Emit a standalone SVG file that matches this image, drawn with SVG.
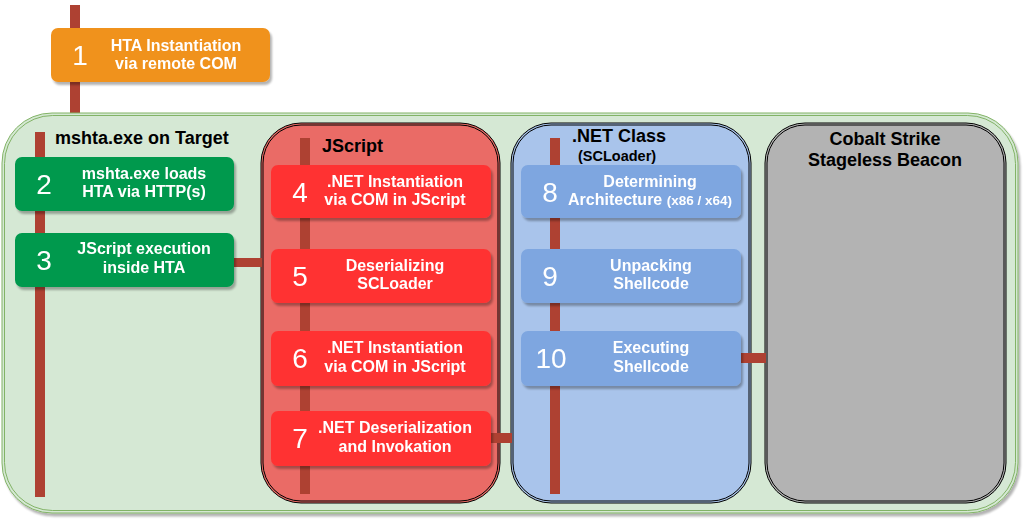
<svg xmlns="http://www.w3.org/2000/svg" width="1027" height="521" viewBox="0 0 1027 521">
<style>
.bar{fill:#ae4132}
.t{font-family:"Liberation Sans",Arial,sans-serif;font-weight:bold;font-size:16px;fill:#ffffff;text-anchor:middle}
.n{font-family:"Liberation Sans",Arial,sans-serif;font-size:28px;fill:#ffffff;text-anchor:middle}
.h{font-family:"Liberation Sans",Arial,sans-serif;font-weight:bold;font-size:18px;fill:#000000}
.box{filter:url(#sh)}
</style>
<defs>
<filter id="sh" x="-10%" y="-10%" width="125%" height="140%">
<feGaussianBlur in="SourceAlpha" stdDeviation="1"/>
<feOffset dx="2" dy="3" result="o"/>
<feComponentTransfer><feFuncA type="linear" slope="0.3"/></feComponentTransfer>
<feMerge><feMergeNode/><feMergeNode in="SourceGraphic"/></feMerge>
</filter>
</defs>
<rect class="bar" x="70" y="5" width="10" height="110"/>
<g id="target">
<rect x="2" y="113" width="1016" height="400" rx="50" fill="#d5e8d4" stroke="#82b366" stroke-width="1" filter="url(#sh)"/>
<rect x="4.5" y="115.5" width="1011" height="395" rx="48" fill="none" stroke="#82b366" stroke-width="1"/>
<text class="h" x="55" y="144">mshta.exe on Target</text>
</g>
<g id="jscript">
<rect x="261" y="123" width="239" height="380" rx="40" fill="#ea6b66" stroke="#000" stroke-width="1"/>
<rect x="263" y="125" width="235" height="376" rx="38" fill="none" stroke="#000" stroke-width="1"/>
<text class="h" x="322" y="152">JScript</text>
</g>
<g id="netclass">
<rect x="511" y="123" width="240" height="380" rx="40" fill="#a9c4eb" stroke="#000" stroke-width="1"/>
<rect x="513" y="125" width="236" height="376" rx="38" fill="none" stroke="#000" stroke-width="1"/>
<text class="h" x="572" y="142">.NET Class</text>
<text class="h" x="578" y="161" style="font-size:14.5px">(SCLoader)</text>
</g>
<g id="beacon">
<rect x="765" y="123" width="241" height="380" rx="40" fill="#b3b3b3" stroke="#000" stroke-width="1"/>
<rect x="767" y="125" width="237" height="376" rx="38" fill="none" stroke="#000" stroke-width="1"/>
<text class="h" x="885" y="145" text-anchor="middle">Cobalt Strike</text>
<text class="h" x="885" y="166" text-anchor="middle">Stageless Beacon</text>
</g>
<g id="connectors">
<rect class="bar" x="35" y="132" width="10" height="365"/>
<rect class="bar" x="300" y="138" width="10" height="356"/>
<rect class="bar" x="550" y="138" width="10" height="356"/>
<rect class="bar" x="233" y="258" width="29" height="9"/>
<rect class="bar" x="490" y="433" width="22" height="10"/>
<rect class="bar" x="740" y="353" width="26" height="10"/>
</g>
<g id="n1" class="box">
<rect x="51" y="28" width="219" height="54" rx="7" fill="#f0921f"/>
<text class="n" x="80" y="65">1</text>
<text class="t" x="176" y="51">HTA Instantiation</text>
<text class="t" x="176" y="69">via remote COM</text>
</g>
<g id="n2" class="box">
<rect x="15" y="157" width="219" height="54" rx="7" fill="#00994d"/>
<text class="n" x="44" y="194">2</text>
<text class="t" x="144" y="179">mshta.exe loads</text>
<text class="t" x="144" y="197">HTA via HTTP(s)</text>
</g>
<g id="n3" class="box">
<rect x="15" y="233" width="219" height="54" rx="7" fill="#00994d"/>
<text class="n" x="44" y="270">3</text>
<text class="t" x="144" y="254">JScript execution</text>
<text class="t" x="144" y="273">inside HTA</text>
</g>
<g id="n4" class="box">
<rect x="271" y="165" width="220" height="53" rx="7" fill="#ff3333"/>
<text class="n" x="300" y="202">4</text>
<text class="t" x="395" y="187">.NET Instantiation</text>
<text class="t" x="395" y="205">via COM in JScript</text>
</g>
<g id="n5" class="box">
<rect x="271" y="249" width="220" height="54" rx="7" fill="#ff3333"/>
<text class="n" x="300" y="286">5</text>
<text class="t" x="395" y="271">Deserializing</text>
<text class="t" x="395" y="289">SCLoader</text>
</g>
<g id="n6" class="box">
<rect x="271" y="331" width="220" height="55" rx="7" fill="#ff3333"/>
<text class="n" x="300" y="368">6</text>
<text class="t" x="395" y="353">.NET Instantiation</text>
<text class="t" x="395" y="372">via COM in JScript</text>
</g>
<g id="n7" class="box">
<rect x="271" y="411" width="220" height="55" rx="7" fill="#ff3333"/>
<text class="n" x="300" y="448">7</text>
<text class="t" x="395" y="433">.NET Deserialization</text>
<text class="t" x="395" y="452">and Invokation</text>
</g>
<g id="n8" class="box">
<rect x="521" y="165" width="220" height="53" rx="7" fill="#7ea6e0"/>
<text class="n" x="550" y="202">8</text>
<text class="t" x="650" y="187">Determining</text>
<text class="t" x="650" y="205">Architecture <tspan style="font-size:13.5px">(x86 / x64)</tspan></text>
</g>
<g id="n9" class="box">
<rect x="521" y="249" width="220" height="54" rx="7" fill="#7ea6e0"/>
<text class="n" x="550" y="286">9</text>
<text class="t" x="651" y="271">Unpacking</text>
<text class="t" x="651" y="289">Shellcode</text>
</g>
<g id="n10" class="box">
<rect x="521" y="331" width="220" height="55" rx="7" fill="#7ea6e0"/>
<text class="n" x="551" y="368">10</text>
<text class="t" x="651" y="353">Executing</text>
<text class="t" x="651" y="372">Shellcode</text>
</g>
</svg>
